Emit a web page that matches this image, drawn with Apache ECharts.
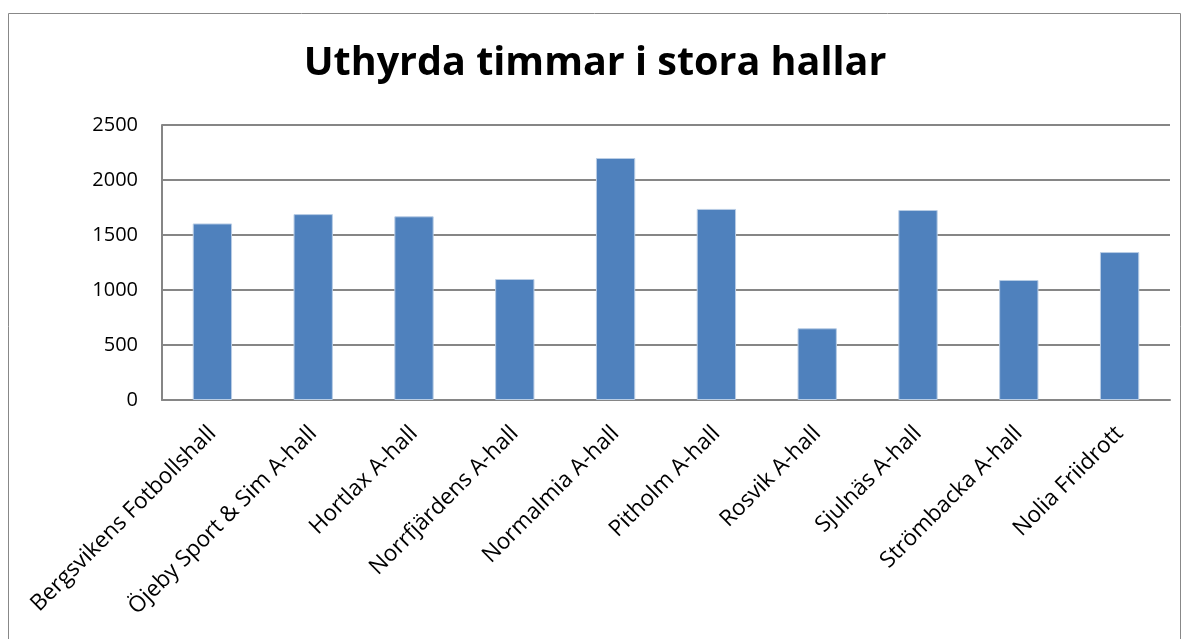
<!DOCTYPE html>
<html>
<head>
<meta charset="utf-8">
<script src="https://cdn.jsdelivr.net/npm/echarts@6/dist/echarts.min.js"></script>
<style>
  html, body { margin: 0; padding: 0; background: #fff; }
  #chart { width: 1190px; height: 639px; }
</style>
</head>
<body>
<div id="chart"></div>
<script>
  // halls and rented hours
  var halls = [
    'Bergsvikens Fotbollshall',
    'Öjeby Sport & Sim A-hall',
    'Hortlax A-hall',
    'Norrfjärdens A-hall',
    'Normalmia A-hall',
    'Pitholm A-hall',
    'Rosvik A-hall',
    'Sjulnäs A-hall',
    'Strömbacka A-hall',
    'Nolia Friidrott'
  ]
  var hours = [1605, 1690, 1670, 1100, 2200, 1737, 652, 1727, 1091, 1345]
  var yTicks = { min: 0, max: 2500, interval: 500 }

  var dom = echarts.init(document.getElementById('chart'))
  var option = {
    animation: false,
    textStyle: { fontFamily: 'Open Sans' },
    title: {
      text: 'Uthyrda timmar i stora hallar',
      left: 'center',
      top: 39,
      textStyle: {
        fontFamily: 'Open Sans',
        fontWeight: 'bold',
        fontSize: 39.5,
        color: '#000'
      }
    },
    graphic: [
      {
        type: 'rect',
        shape: { x: 8.5, y: 13.5, width: 1172, height: 640 },
        style: { fill: 'none', stroke: '#888', lineWidth: 1 },
        silent: true
      }
    ],
    grid: {
      top: 125,
      left: 162,
      right: 20,
      bottom: 239
    },
    xAxis: {
      type: 'category',
      data: halls,
      axisLine: { lineStyle: { color: '#868686', width: 2 } },
      axisTick: { show: false },
      axisLabel: {
        rotate: 45,
        interval: 0,
        fontSize: 22.5,
        color: '#000',
        margin: 30
      }
    },
    yAxis: {
      type: 'value',
      min: yTicks.min,
      max: yTicks.max,
      interval: yTicks.interval,
      axisLine: { show: true, lineStyle: { color: '#868686', width: 2 } },
      axisTick: { show: false },
      axisLabel: {
        fontSize: 20,
        color: '#000',
        margin: 24,
        formatter: function (v) { return String(v) }
      },
      splitLine: { lineStyle: { color: '#868686', width: 2 } }
    },
    series: [
      {
        type: 'bar',
        data: hours,
        barWidth: '39%',
        itemStyle: {
          color: '#4F81BD',
          borderColor: '#B9CDE5',
          borderWidth: 1
        }
      }
    ]
  }
  dom.setOption(option)
</script>
</body>
</html>
